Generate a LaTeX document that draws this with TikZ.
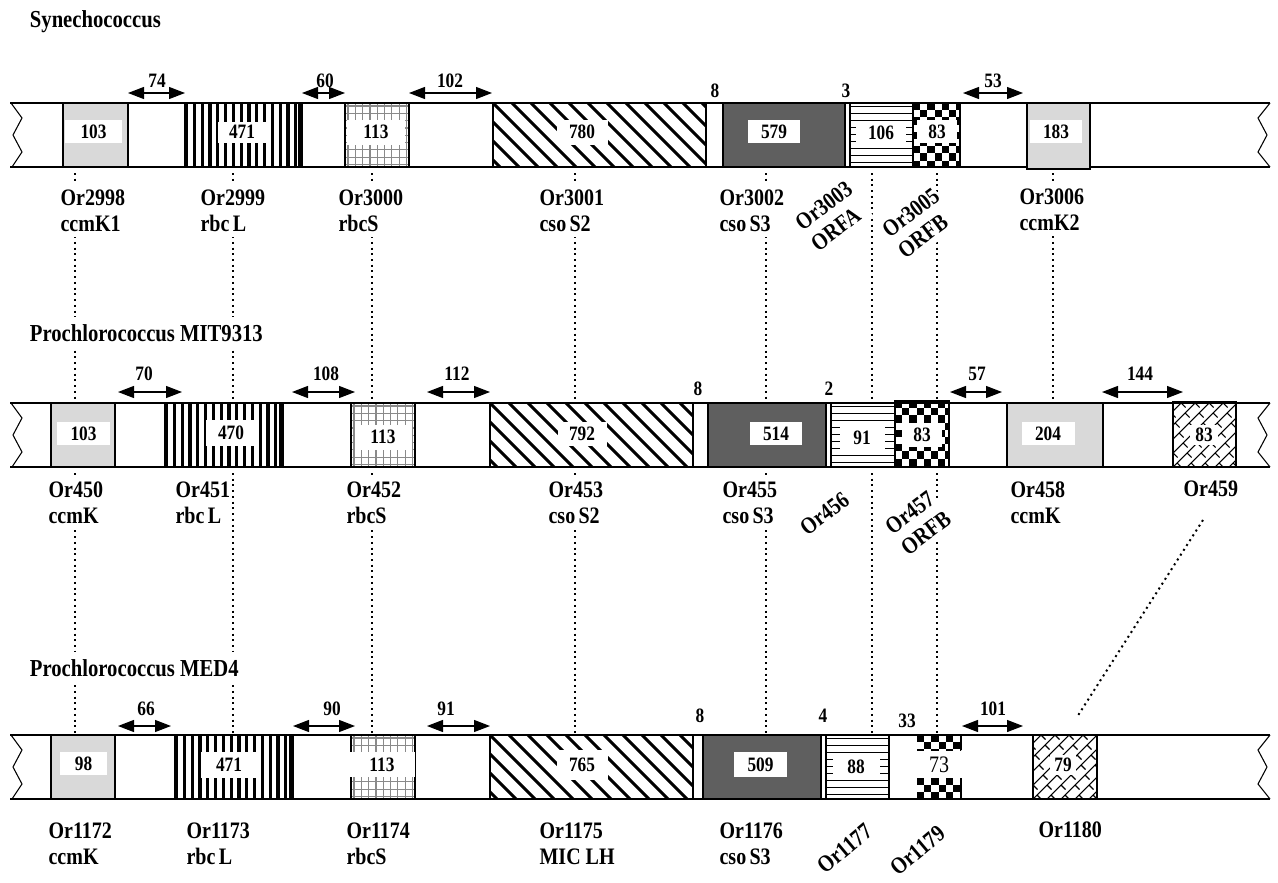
\documentclass[tikz,border=0pt]{standalone}
\usepackage{fontspec}
\setmainfont{Liberation Serif}
\usetikzlibrary{arrows.meta}
\definecolor{lgray}{HTML}{D9D9D9}
\definecolor{dgray}{HTML}{5F5F5F}
\definecolor{ggray}{HTML}{8A8A8A}
\newcommand\tall[1]{\scalebox{1}[1.18]{#1}}
\newcommand\vbars[4]{\begin{scope}\clip (#1,#2) rectangle (#3,#4);
  \foreach \i in {0,...,16}{\draw[line width=2.4pt] ({#1+1.6+\i*7.8},#2) -- ({#1+1.6+\i*7.8},#4);}
  \draw[line width=3.4pt] ({#3-2},#2) -- ({#3-2},#4);\end{scope}}
\newcommand\nwlines[4]{\begin{scope}\clip (#1,#2) rectangle (#3,#4);
  \foreach \i in {-4,...,12}{\draw[line width=2.2pt] ({#1+\i*19},#2) -- ++(72,72);}\end{scope}}
\newcommand\gridpat[4]{\begin{scope}\clip (#1,#2) rectangle (#3,#4);
  \foreach \i in {0,...,10}{\draw[ggray,line width=0.9pt] ({#1+3+\i*7.3},#2) -- ({#1+3+\i*7.3},#4);
    \draw[ggray,line width=0.9pt] (#1,{#2+3+\i*7.3}) -- (#3,{#2+3+\i*7.3});}\end{scope}}
\newcommand\hlines[4]{\begin{scope}\clip (#1,#2) rectangle (#3,#4);
  \foreach \i in {0,...,10}{\draw[line width=1.1pt] (#1,{#2+3.5+\i*7}) -- (#3,{#2+3.5+\i*7});}\end{scope}}
\newcommand\checker[4]{\begin{scope}\clip (#1,#2) rectangle (#3,#4);
  \foreach \i in {0,...,8}{\foreach \j in {0,...,9}{\pgfmathtruncatemacro\rr{mod(\i+\j,2)}%
    \ifnum\rr=0 \fill ({#1+\i*7.2},{#2+\j*7.2}) rectangle ++(7.2,7.2);\fi}}\end{scope}}
\newcommand\brick[4]{\begin{scope}\clip (#1,#2) rectangle (#3,#4);
  \foreach \i in {-5,...,6}{\draw[line width=0.8pt] ({#1+\i*14},#4) -- ++(80,-80);
    \foreach \k in {0,...,7}{\draw[line width=0.8pt] ({#1+\i*14+\k*10+4},{#4-\k*10-4}) -- ++(4.5,4.5);}}\end{scope}}
\newcommand\gborder[4]{\draw[line width=1.1pt] (#1,#2) rectangle (#3,#4);}
\newcommand\stripline[1]{%
  \draw[line width=1pt] (10,#1) -- (1270,#1);
  \draw[line width=1pt] (10,{#1+64}) -- (1270,{#1+64});
  \draw[line width=0.8pt] (11,#1) -- (22,{#1+15}) -- (13,{#1+32}) -- (22,{#1+49}) -- (12,{#1+64});
  \draw[line width=0.8pt] (1270,#1) -- (1258,{#1+15}) -- (1267,{#1+32}) -- (1258,{#1+49}) -- (1270,{#1+64});}
% #3 = baseline of the second (last) line
\newcommand\glab[5]{%
  \node[nm, align=left] (#1) at (#2,#3) {\tall{#4}\\\tall{#5}};}
\newcommand\blab[6]{%
  \node[bl, minimum width={#4*0.75pt}, minimum height={#5*0.75pt}] (#1) at (#2,#3) {\tall{#6}};}
\newcommand\garrow[7]{%
  \coordinate (#1l) at (#2,#4); \coordinate (#1r) at (#3,#4);
  \draw[garr] (#1l) -- (#1r);
  \node[al] (#1t) at (#5,#6) {\tall{#7}};}
\begin{document}
\begin{tikzpicture}[x=0.75pt,y=-0.75pt,
  nm/.style={font=\fontsize{15}{19.5}\bfseries, anchor=base west, fill=white, inner xsep=1pt, inner ysep=4pt},
  ttl/.style={font=\fontsize{15.5}{18}\bfseries, anchor=base west, fill=white, inner xsep=2pt, inner ysep=5pt},
  bl/.style={fill=white, inner sep=0pt, font=\fontsize{13}{15}\bfseries},
  al/.style={font=\fontsize{13}{15}\bfseries, anchor=base, inner sep=0pt},
  garr/.style={<->, >={Triangle[length=12pt,width=9pt]}, line width=0.9pt},
  dl/.style={line width=1.5pt, dash pattern=on 1.5pt off 2.8pt}]
\useasboundingbox[fill=white] (0,0) rectangle (1278,882);

% ---------- Row 1 : Synechococcus ----------
\stripline{103}
\fill[lgray] (63,103) rectangle (128,167); \gborder{63}{103}{128}{167}
\vbars{185}{103}{302}{167} \gborder{185}{103}{302}{167}
\gridpat{345}{103}{409}{167} \gborder{345}{103}{409}{167}
\nwlines{493}{103}{706}{167} \gborder{493}{103}{706}{167}
\fill[dgray] (723,103) rectangle (845,167); \gborder{723}{103}{845}{167}
\hlines{850}{103}{913}{167} \gborder{850}{103}{913}{167}
\checker{913}{103}{960}{167} \gborder{913}{103}{960}{167}
\fill[lgray] (1027,103) rectangle (1090,169); \gborder{1027}{103}{1090}{169}

% ---------- Row 2 : MIT9313 ----------
\stripline{403}
\fill[lgray] (51,403) rectangle (115,467); \gborder{51}{403}{115}{467}
\vbars{165}{403}{283}{467} \gborder{165}{403}{283}{467}
\gridpat{351}{403}{415}{467} \gborder{351}{403}{415}{467}
\nwlines{490}{403}{693}{467} \gborder{490}{403}{693}{467}
\fill[dgray] (708,403) rectangle (826,467); \gborder{708}{403}{826}{467}
\hlines{831}{403}{895}{467} \gborder{831}{403}{895}{467}
\checker{895}{401}{949}{467} \gborder{895}{401}{949}{467}
\fill[lgray] (1007,403) rectangle (1103,467); \gborder{1007}{403}{1103}{467}
\brick{1173}{402}{1236}{467} \gborder{1173}{402}{1236}{467}

% ---------- Row 3 : MED4 ----------
\stripline{735}
\fill[lgray] (51,735) rectangle (115,799); \gborder{51}{735}{115}{799}
\vbars{175}{735}{293}{799} \gborder{175}{735}{293}{799}
\gridpat{351}{735}{415}{799} \gborder{351}{735}{415}{799}
\nwlines{490}{735}{693}{799} \gborder{490}{735}{693}{799}
\fill[dgray] (703,735) rectangle (821,799); \gborder{703}{735}{821}{799}
\hlines{826}{735}{889}{799} \gborder{826}{735}{889}{799}
\checker{917}{735}{961}{750} \checker{917}{778}{961}{799}
\draw[line width=0.8pt] (961,735) -- (961,750) (961,778) -- (961,799);
\brick{1033}{735}{1097}{799} \gborder{1033}{735}{1097}{799}

% ---------- dotted homology lines ----------
\foreach \x [count=\n] in {75,233,372,575,766,872,937,1053}{
  \coordinate (u\n) at (\x,173); \coordinate (m\n) at (\x,403);
  \draw[dl] (u\n) -- (m\n);}
\foreach \x [count=\n] in {75,233,372,575,766,872,937}{
  \coordinate (v\n) at (\x,473); \coordinate (w\n) at (\x,733);
  \draw[dl] (v\n) -- (w\n);}
\coordinate (d1) at (1203,520); \coordinate (d2) at (1077,717);
\draw[dl] (d1) -- (d2);

% ---------- titles ----------
\node[ttl] (t1) at (27,27) {\tall{Synechococcus}};
\node[ttl] (t2) at (27,341) {\tall{Prochlorococcus MIT9313}};
\node[ttl] (t3) at (27,676) {\tall{Prochlorococcus MED4}};

% ---------- box labels ----------
\blab{b1}{93.5}{131.5}{57}{23}{103}
\blab{b2}{242}{132}{49}{21}{471}
\blab{b3}{376}{132}{58}{25}{113}
\blab{b4}{582}{132}{51}{25}{780}
\blab{b5}{774}{131.5}{52}{23}{579}
\blab{b6}{881}{133}{50}{23}{106}
\blab{b7}{937}{131.5}{40}{23}{83}
\blab{b8}{1056}{131.5}{52}{23}{183}

\blab{c1}{83.5}{433.5}{53}{23}{103}
\blab{c2}{231}{433}{50}{26}{470}
\blab{c3}{383}{437}{57}{25}{113}
\blab{c4}{582}{434}{49}{24}{792}
\blab{c5}{776}{433.5}{52}{23}{514}
\blab{c6}{862}{438}{45}{23}{91}
\blab{c7}{922}{435}{40}{24}{83}
\blab{c8}{1048}{433.5}{53}{23}{204}
\blab{c9}{1204}{435}{28}{20}{83}

\blab{e1}{83.5}{763.5}{47}{23}{98}
\blab{e2}{229}{765}{57}{26}{471}
\blab{e3}{382}{764.5}{66}{25}{113}
\blab{e4}{582}{765}{51}{30}{765}
\blab{e5}{760.5}{764.5}{53}{25}{509}
\blab{e6}{856}{767}{47}{21}{88}
\node[font=\fontsize{15}{18}\selectfont, inner sep=0pt] (e7) at (939,765) {\tall{73}};
\blab{e8}{1063}{765}{26}{20}{79}

% ---------- intergenic distances ----------
\garrow{ra}{128}{185}{93}{157}{87}{74}
\garrow{rb}{302}{345}{93}{325}{87}{60}
\garrow{rc}{409}{492}{93}{450}{87}{102}
\garrow{rd}{963}{1023}{93}{993}{87}{53}
\node[al] (s1) at (715,97) {\tall{8}};
\node[al] (s2) at (846,97) {\tall{3}};

\garrow{qa}{118}{182}{392}{144}{380}{70}
\garrow{qb}{292}{355}{392}{326}{380}{108}
\garrow{qc}{427}{490}{392}{457}{380}{112}
\garrow{qd}{950}{1002}{392}{977}{380}{57}
\garrow{qe}{1102}{1183}{392}{1140}{380}{144}
\node[al] (s3) at (698,395) {\tall{8}};
\node[al] (s4) at (829,395) {\tall{2}};

\garrow{ka}{118}{171}{726}{146}{715}{66}
\garrow{kb}{293}{355}{726}{332}{715}{90}
\garrow{kc}{427}{490}{726}{446}{715}{91}
\garrow{kd}{962}{1023}{726}{993}{715}{101}
\node[al] (s5) at (700,722) {\tall{8}};
\node[al] (s6) at (823,722) {\tall{4}};
\node[al] (s7) at (907,727) {\tall{33}};

% ---------- gene names ----------
\glab{n1}{59}{231}{Or2998}{ccmK1}
\glab{n2}{199}{231}{Or2999}{rbc\,L}
\glab{n3}{337}{231}{Or3000}{rbcS}
\glab{n4}{538}{231}{Or3001}{cso\,S2}
\glab{n5}{718}{231}{Or3002}{cso\,S3}
\node[nm, align=left, rotate=37] (n6) at (817,253) {\tall{Or3003}\\\tall{ORFA}};
\node[nm, align=left, rotate=37] (n7) at (904,260) {\tall{Or3005}\\\tall{ORFB}};
\glab{n8}{1018}{230}{Or3006}{ccmK2}

\glab{o1}{47}{523}{Or450}{ccmK}
\glab{o2}{174}{523}{Or451}{rbc\,L}
\glab{o3}{345}{523}{Or452}{rbcS}
\glab{o4}{547}{523}{Or453}{cso\,S2}
\glab{o5}{721}{523}{Or455}{cso\,S3}
\node[nm, rotate=37] (o6) at (806,537) {\tall{Or456}};
\node[nm, align=left, rotate=37] (o7) at (907,557) {\tall{Or457}\\\tall{ORFB}};
\glab{o8}{1009}{523}{Or458}{ccmK}
\node[nm] (o9) at (1182,496) {\tall{Or459}};

\glab{f1}{47}{864}{Or1172}{ccmK}
\glab{f2}{185}{864}{Or1173}{rbc\,L}
\glab{f3}{345}{864}{Or1174}{rbcS}
\glab{f4}{538}{864}{Or1175}{MIC LH}
\glab{f5}{718}{864}{Or1176}{cso\,S3}
\node[nm, rotate=40] (f6) at (824,876) {\tall{Or1177}};
\node[nm, rotate=40] (f7) at (897,878) {\tall{Or1179}};
\node[nm] (f8) at (1037,837) {\tall{Or1180}};
\end{tikzpicture}
\end{document}
